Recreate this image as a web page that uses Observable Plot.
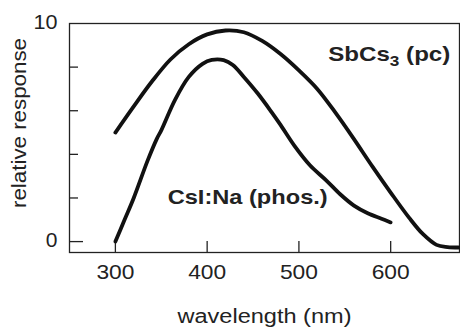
<!DOCTYPE html>
<html>
<head>
<meta charset="utf-8">
<script src="https://cdn.jsdelivr.net/npm/d3@7"></script>
<script src="https://cdn.jsdelivr.net/npm/@observablehq/plot@0.6"></script>
<style>
  html, body { margin: 0; padding: 0; background: #fff; }
</style>
</head>
<body>
<div id="chart"></div>
<script>
// SbCs3 (photocathode) relative response
const sbWavelength = [300, 320, 340, 360, 380, 400, 420, 440, 460, 480, 500, 520, 540, 560, 580, 600, 620, 635, 650, 662, 674];
const sbResponse   = [5.0, 6.2, 7.35, 8.35, 9.05, 9.5, 9.68, 9.6, 9.2, 8.6, 7.85, 7.0, 5.9, 4.7, 3.45, 2.25, 1.1, 0.35, -0.15, -0.25, -0.27];

// CsI:Na (phosphor) relative emission
const csiWavelength = [300, 310, 320, 335, 345, 350, 365, 380, 395, 405, 418, 428, 440, 455, 470, 480, 495, 512, 530, 545, 560, 575, 590, 600];
const csiResponse   = [0, 1.0, 2.0, 3.7, 4.7, 5.1, 6.5, 7.55, 8.15, 8.33, 8.32, 8.1, 7.55, 6.8, 5.95, 5.35, 4.4, 3.5, 2.8, 2.17, 1.65, 1.3, 1.05, 0.88];

const xTicks = [300, 400, 500, 600];
const yTickLabels = [0, 10];
const yMinorTicks = [2, 4, 6, 8];
const seriesNames = ["SbCs3 (pc)", "CsI:Na (phos.)"];
const xTitle = "wavelength (nm)";
const yTitle = "relative response";

const sbRows = sbWavelength.map((w, i) => ({w, r: sbResponse[i]}));
const csiRows = csiWavelength.map((w, i) => ({w, r: csiResponse[i]}));

const W = 460, H = 329, mL = 69, mR = 1, mT = 23, mB = 77;
const plotW = W - mL - mR, plotH = H - mT - mB;
const ink = "#222";
const font = "'Liberation Sans', Arial, Helvetica, sans-serif";

const chart = Plot.plot({
  width: W, height: H,
  marginLeft: mL, marginRight: mR, marginTop: mT, marginBottom: mB,
  x: {domain: [250, 675], label: null},
  y: {domain: [-0.5, 10], label: null},
  style: {fontFamily: font, color: ink, background: "white", overflow: "visible"},
  marks: [
    Plot.frame({stroke: ink, strokeWidth: 1.3}),
    Plot.tickY([0], {y: d => d, stroke: ink, strokeWidth: 1.3, insetRight: plotW - 14}),
    Plot.tickY(yMinorTicks, {y: d => d, stroke: ink, strokeWidth: 1.3, insetRight: plotW - 9}),
    Plot.tickX(xTicks, {x: d => d, stroke: ink, strokeWidth: 1.3, insetTop: plotH - 11}),
    Plot.axisX(xTicks, {tickSize: 0, tickPadding: 12, fontSize: 21, label: null, fill: ink}),
    Plot.axisY(yTickLabels, {tickSize: 0, tickPadding: 12, fontSize: 21, label: null, dy: -1.5, fill: ink}),
    Plot.line(sbRows, {x: "w", y: "r", stroke: "#111", strokeWidth: 3.8, curve: "catmull-rom"}),
    Plot.line(csiRows, {x: "w", y: "r", stroke: "#111", strokeWidth: 3.8, curve: "catmull-rom"}),
    Plot.text([seriesNames[0]], {x: 532, y: 8.26, text: d => d, textAnchor: "start", lineAnchor: "bottom", fontSize: 21, fontWeight: "bold", fill: ink}),
    Plot.text([seriesNames[1]], {x: 357, y: 1.74, text: d => d, textAnchor: "start", lineAnchor: "bottom", fontSize: 21, fontWeight: "bold", fill: ink}),
    Plot.text([xTitle], {frameAnchor: "bottom", text: d => d, textAnchor: "middle", lineAnchor: "bottom", dy: 70, fontSize: 19.5, fill: ink}),
    Plot.text([yTitle], {frameAnchor: "left", text: d => d, textAnchor: "middle", rotate: -90, lineAnchor: "bottom", dx: -44, dy: -15, fontSize: 19.5, fill: ink})
  ]
});

// stretch text horizontally to the reference's wide lettering
const widths = {
  "300": 38, "400": 38, "500": 38, "600": 38, "10": 24,
  "wavelength (nm)": 174, "relative response": 170,
  "CsI:Na (phos.)": 160, "SbCs3 (pc)": 122
};
chart.querySelectorAll("text").forEach(t => {
  const s = t.textContent;
  if (widths[s]) {
    t.setAttribute("textLength", widths[s]);
    t.setAttribute("lengthAdjust", "spacingAndGlyphs");
  }
  if (s === "SbCs3 (pc)") {
    t.textContent = "";
    const ns = "http://www.w3.org/2000/svg";
    const a = document.createElementNS(ns, "tspan"); a.textContent = "SbCs";
    const b = document.createElementNS(ns, "tspan"); b.textContent = "3"; b.setAttribute("dy", "5"); b.setAttribute("font-size", "15");
    const c = document.createElementNS(ns, "tspan"); c.textContent = " (pc)"; c.setAttribute("dy", "-5");
    t.append(a, b, c);
  }
});

document.getElementById("chart").append(chart);
</script>
</body>
</html>
